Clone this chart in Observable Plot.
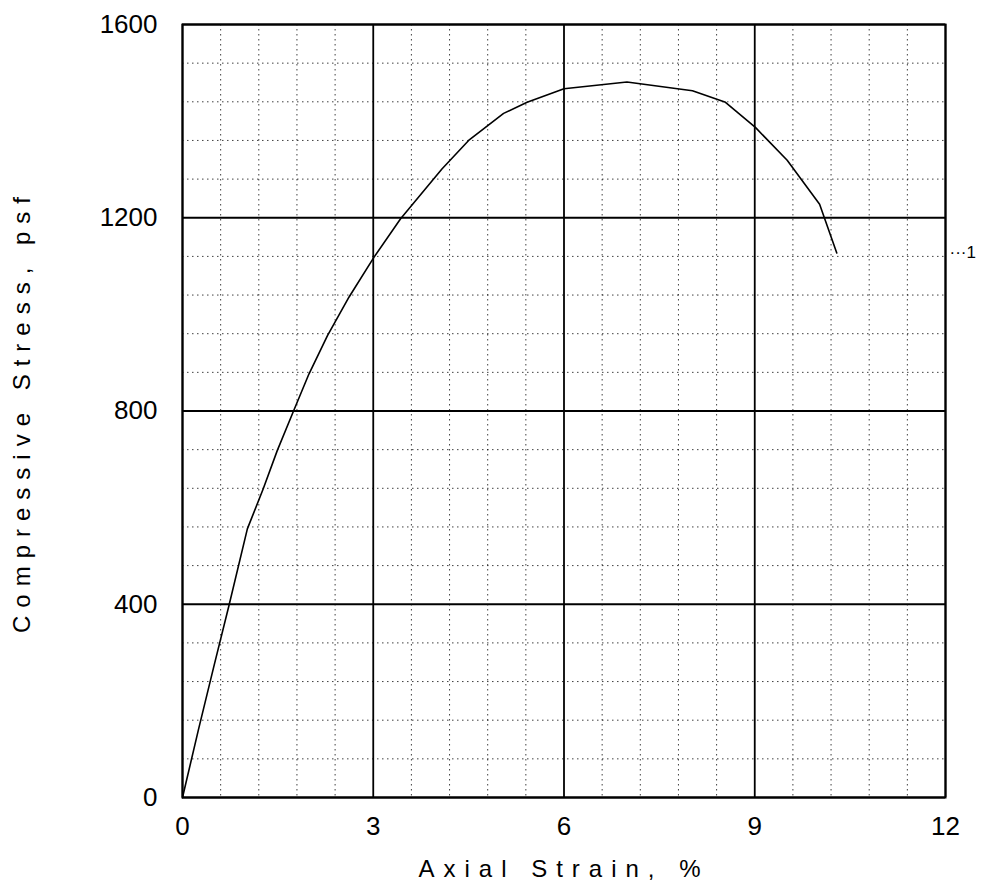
<!DOCTYPE html>
<html>
<head>
<meta charset="utf-8">
<script src="https://cdn.jsdelivr.net/npm/d3@7"></script>
<script src="https://cdn.jsdelivr.net/npm/@observablehq/plot@0.6"></script>
<style>
  html, body { margin: 0; padding: 0; background: #fff; }
  #chart svg { display: block; }
</style>
</head>
<body>
<div id="chart"></div>
<script>
// Stress-strain curve (specimen 1)
const strain = [0, 0.25, 0.5, 0.73, 1.02, 1.27, 1.49, 1.74, 1.99, 2.28, 2.62, 3.01, 3.43, 4.08, 4.5, 5.05, 5.42, 6.0, 6.99, 8.02, 8.54, 9.01, 9.51, 10.02, 10.29];
const stress = [0, 140, 275, 397, 556, 639, 718, 798, 877, 956, 1036, 1118, 1198, 1301, 1360, 1416, 1439, 1467, 1481, 1463, 1439, 1387, 1319, 1228, 1127];
const curveLabel = "1";

// Axes
const xTicks = [0, 3, 6, 9, 12];
const yTicks = [0, 400, 800, 1200, 1600];
const xMinor = [0.6, 1.2, 1.8, 2.4, 3.6, 4.2, 4.8, 5.4, 6.6, 7.2, 7.8, 8.4, 9.6, 10.2, 10.8, 11.4];
const yMinor = [80, 160, 240, 320, 480, 560, 640, 720, 880, 960, 1040, 1120, 1280, 1360, 1440, 1520];
const xLabel = "Axial Strain, %";
const yLabel = "Compressive Stress, psf";

const data = strain.map((s, i) => ({strain: s, stress: stress[i]}));
const last = data[data.length - 1];

const chart = Plot.plot({
  width: 983,
  height: 886,
  marginLeft: 182,
  marginRight: 38,
  marginTop: 24,
  marginBottom: 89,
  x: {domain: [0, 12]},
  y: {domain: [0, 1600]},
  style: {fontFamily: "'Liberation Sans', Arial, sans-serif", fontSize: "24px", color: "#000", background: "#fff", overflow: "visible"},
  marks: [
    Plot.ruleX(xMinor, {stroke: "#000", strokeWidth: 1, strokeDasharray: "1.5,3.5", strokeOpacity: 0.75}),
    Plot.ruleY(yMinor, {stroke: "#000", strokeWidth: 1, strokeDasharray: "1.5,3.5", strokeOpacity: 0.75}),
    Plot.ruleX(xTicks, {stroke: "#000", strokeWidth: 1.8}),
    Plot.ruleY(yTicks, {stroke: "#000", strokeWidth: 1.8}),
    Plot.frame({stroke: "#000", strokeWidth: 2}),
    Plot.line(data, {x: "strain", y: "stress", stroke: "#000", strokeWidth: 1.6}),
    Plot.text([last], {x: () => 12, y: "stress", text: () => "···" + curveLabel, textAnchor: "start", dx: 4, fontSize: 17, clip: false}),
    Plot.axisX({ticks: xTicks, tickSize: 0, tickPadding: 19, label: null, fontSize: 26, tickFormat: d => String(d)}),
    Plot.axisY({ticks: yTicks, tickSize: 0, tickPadding: 25, label: null, fontSize: 26, tickFormat: d => String(d)}),
    Plot.text([xLabel], {frameAnchor: "bottom", dy: 72, textAnchor: "middle", lineAnchor: "middle", fontSize: 24, className: "xlab"}),
    Plot.text([yLabel], {frameAnchor: "left", dx: -160, rotate: -90, textAnchor: "middle", lineAnchor: "middle", fontSize: 24, className: "ylab"})
  ]
});
document.getElementById("chart").appendChild(chart);
// spaced plotter-style lettering for the axis titles
chart.querySelectorAll(".xlab text").forEach(t => t.setAttribute("letter-spacing", "9"));
chart.querySelectorAll(".ylab text").forEach(t => t.setAttribute("letter-spacing", "8"));
</script>
</body>
</html>
